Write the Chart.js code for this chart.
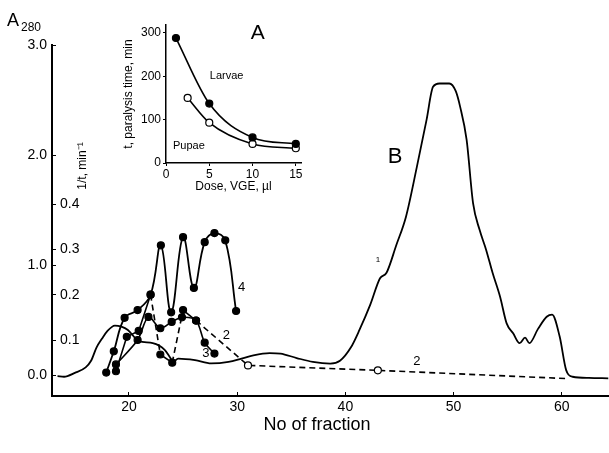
<!DOCTYPE html>
<html>
<head>
  <title>A280 and 1/t by fraction</title>
  <script src="https://cdn.jsdelivr.net/npm/chart.js"></script>
  <style>
    body { margin: 0; background: #fff; overflow: hidden; }
    #wrap { position: relative; width: 609px; height: 453px; overflow: hidden; }
    #main { position: absolute; left: 0; top: 0; }
    #inset { position: absolute; left: 100px; top: 10px; }
  </style>
</head>
<body>
<div id="wrap">
  <!-- a few px wider than the page: Chart.js keeps ~5px free on the right, this lets the axis run to the edge -->
  <canvas id="main" width="614" height="453"></canvas>
  <canvas id="inset" width="210" height="190"></canvas>
</div>
<script>
  // curve 1: A280 profile
  const fracA = [13.4, 14, 15, 16, 16.5, 17, 17.5, 18, 18.7, 19.3, 19.9, 20.9, 22.2, 23.3, 23.8,
    24.1, 24.55, 26.1, 27.6, 29.2, 30.4, 31.5, 33, 34, 35.5, 37, 38.6, 39.5, 40.5, 41.3,
    42.3, 43.2, 43.8, 44.7, 45.6, 46.6, 47.5, 48.1, 48.7, 49.6, 50.2, 50.6, 51.2, 51.8, 52.4,
    53, 53.6, 54.3, 54.9, 55.5, 56.1, 56.6, 57, 57.8, 58.6, 59.1, 59.8, 60.4, 61, 62.5, 64.3];
  const absA = [-0.01, -0.015, 0.02, 0.07, 0.13, 0.25, 0.33, 0.4, 0.45, 0.44, 0.41, 0.31, 0.29, 0.23, 0.16,
    0.12, 0.15, 0.136, 0.106, 0.12, 0.15, 0.18, 0.2, 0.195, 0.155, 0.12, 0.105, 0.13, 0.25, 0.41,
    0.64, 0.88, 0.93, 1.18, 1.44, 1.89, 2.32, 2.62, 2.65, 2.65, 2.58, 2.44, 2.14, 1.56, 1.32,
    1.14, 0.93, 0.71, 0.47, 0.38, 0.29, 0.34, 0.29, 0.42, 0.53, 0.55, 0.35, 0.045, -0.015, -0.025, -0.03];

  // curves 2, 3, 4: 1/t, min^-1
  const frac2 = [18.8, 19.8, 20.9, 22, 22.9, 24, 25, 26.2, 31, 43, 60.3];
  const inv2 = [0.031, 0.107, 0.12, 0.2, 0.068, 0.05, 0.166, 0.143, 0.044, 0.033, 0.015];
  const frac3 = [18.8, 20.8, 21.8, 22.9, 23.95, 24.9, 26.2, 27, 27.9];
  const inv3 = [0.046, 0.10, 0.151, 0.126, 0.14, 0.15, 0.143, 0.094, 0.07];
  const frac4 = [17.9, 18.6, 19.6, 20.8, 22, 22.95, 23.9, 25, 26, 27, 27.9, 28.9, 29.9];
  const inv4 = [0.028, 0.075, 0.149, 0.166, 0.2, 0.309, 0.161, 0.327, 0.215, 0.316, 0.336, 0.32, 0.164];

  // inset A: paralysis time vs dose
  const doseL = [1.15, 5, 10, 15];
  const timeL = [288, 137, 59, 44];
  const doseP = [2.5, 5, 10, 15];
  const timeP = [150, 93, 44, 34];

  const fracTicks = [20, 30, 40, 50, 60];
  const absTicks = [0, 1, 2, 3];
  const invTicks = [0.1, 0.2, 0.3, 0.4];
  const doseTicks = [0, 5, 10, 15];
  const timeTicks = [0, 100, 200, 300];

  const FONT = "'Liberation Sans', Arial, sans-serif";
  Chart.defaults.font.family = FONT;
  Chart.defaults.color = '#000';

  const pts = (xs, ys) => xs.map((v, i) => ({ x: v, y: ys[i] }));
  const setTicks = list => s => { s.ticks = list.map(v => ({ value: v })); };
  // fixed axis box sizes
  const fixBox = (w, h) => s => {
    if (w !== null) s.width = w;
    if (h !== null) s.height = h;
    s.paddingLeft = s.paddingRight = s.paddingTop = s.paddingBottom = 0;
  };

  const mainText = {
    id: 'mainText',
    afterDraw(chart) {
      const { ctx } = chart;
      const { x, y, y2 } = chart.scales;
      ctx.save();
      ctx.fillStyle = '#000';
      ctx.font = '18px ' + FONT;
      ctx.fillText('A', 7, 26);
      ctx.font = '12px ' + FONT;
      ctx.fillText('280', 21, 31);

      ctx.save();
      ctx.translate(83, 166);
      ctx.rotate(-Math.PI / 2);
      ctx.textAlign = 'center';
      ctx.textBaseline = 'middle';
      ctx.fillText('1/t, min\u207B\u00B9', 0, 0);
      ctx.restore();

      ctx.textAlign = 'center';
      ctx.textBaseline = 'middle';
      ctx.font = '18px ' + FONT;
      ctx.fillText('No of fraction', 317, 425);

      ctx.font = '22px ' + FONT;
      ctx.fillText('B', x.getPixelForValue(44.6), y.getPixelForValue(1.98));
      ctx.font = '13px ' + FONT;
      ctx.fillText('4', x.getPixelForValue(30.4), y2.getPixelForValue(0.215));
      ctx.fillText('2', x.getPixelForValue(29.0), y2.getPixelForValue(0.111));
      ctx.fillText('3', x.getPixelForValue(27.1), y2.getPixelForValue(0.071));
      ctx.fillText('2', x.getPixelForValue(46.6), y2.getPixelForValue(0.052));
      ctx.font = '8px ' + FONT;
      ctx.fillText('1', x.getPixelForValue(43.0), y.getPixelForValue(1.05));
      ctx.restore();
    }
  };

  const dotted = { pointRadius: 3.5, pointBorderColor: '#000', pointBorderWidth: 1.2, pointBackgroundColor: '#000' };

  new Chart(document.getElementById('main'), {
    type: 'line',
    data: {
      datasets: [
        {
          data: pts(fracA, absA), yAxisID: 'y',
          borderColor: '#000', borderWidth: 1.8, pointRadius: 0,
          cubicInterpolationMode: 'monotone'
        },
        {
          data: pts(frac2, inv2), yAxisID: 'y2',
          borderColor: '#000', borderWidth: 1.6, tension: 0,
          ...dotted,
          pointBackgroundColor: c => frac2[c.dataIndex] > 30 ? '#fff' : '#000',
          pointRadius: c => c.dataIndex === frac2.length - 1 ? 0 : 3.5,
          segment: { borderDash: c => [3, 5, 7, 8, 9].includes(c.p0DataIndex) ? [6, 4] : undefined }
        },
        {
          data: pts(frac3, inv3), yAxisID: 'y2',
          borderColor: '#000', borderWidth: 1.6, tension: 0.3, ...dotted
        },
        {
          data: pts(frac4, inv4), yAxisID: 'y2',
          borderColor: '#000', borderWidth: 1.8, tension: 0.4, ...dotted
        }
      ]
    },
    options: {
      animation: false,
      responsive: false,
      devicePixelRatio: 1,
      layout: { padding: { top: 45, left: 0, right: 0, bottom: 0 } },
      plugins: { legend: { display: false }, tooltip: { enabled: false } },
      scales: {
        x: {
          type: 'linear', min: 12.89, max: 64.34,
          afterBuildTicks: setTicks(fracTicks),
          afterFit: fixBox(null, 57),
          grid: { drawOnChartArea: false, drawTicks: true, tickLength: -4, color: '#000' },
          border: { display: true, color: '#000', width: 2 },
          ticks: { padding: 7, maxRotation: 0, font: { size: 14 } }
        },
        y: {
          position: 'left', weight: 1, min: -0.19, max: 3.0,
          afterBuildTicks: setTicks(absTicks),
          afterFit: fixBox(52, null),
          grid: { drawOnChartArea: false, drawTicks: true, tickLength: -4, color: '#000' },
          border: { display: true, color: '#000', width: 2 },
          ticks: { padding: 9, font: { size: 14 }, callback: v => v.toFixed(1) }
        },
        y2: {
          position: 'left', weight: 0, min: -0.0236, max: 0.7512,
          afterBuildTicks: setTicks(invTicks),
          afterFit: fixBox(0, null),
          grid: { drawOnChartArea: false, drawTicks: true, tickLength: -4, color: '#000' },
          border: { display: false },
          ticks: { mirror: true, padding: 8, font: { size: 14 }, callback: v => v.toFixed(1) }
        }
      }
    },
    plugins: [mainText]
  });

  const insetText = {
    id: 'insetText',
    afterDraw(chart) {
      const { ctx } = chart;
      const { x, y } = chart.scales;
      ctx.save();
      ctx.fillStyle = '#000';
      ctx.textAlign = 'center';
      ctx.textBaseline = 'middle';
      ctx.font = '21px ' + FONT;
      ctx.fillText('A', x.getPixelForValue(10.6), y.getPixelForValue(300));
      ctx.font = '11px ' + FONT;
      ctx.fillText('Larvae', x.getPixelForValue(7.0), y.getPixelForValue(200));
      ctx.fillText('Pupae', x.getPixelForValue(2.65), y.getPixelForValue(39));
      ctx.restore();
    }
  };

  new Chart(document.getElementById('inset'), {
    type: 'line',
    data: {
      datasets: [
        {
          data: pts(doseL, timeL), borderColor: '#000', borderWidth: 1.6,
          cubicInterpolationMode: 'monotone', ...dotted
        },
        {
          data: pts(doseP, timeP), borderColor: '#000', borderWidth: 1.6,
          cubicInterpolationMode: 'monotone', ...dotted, pointBackgroundColor: '#fff'
        }
      ]
    },
    options: {
      animation: false,
      responsive: false,
      devicePixelRatio: 1,
      layout: { padding: { top: 15, right: 9, left: 0, bottom: 0 } },
      plugins: { legend: { display: false }, tooltip: { enabled: false } },
      scales: {
        x: {
          type: 'linear', min: 0, max: 15.6,
          afterBuildTicks: setTicks(doseTicks),
          afterFit: fixBox(null, 37),
          grid: { drawOnChartArea: false, drawTicks: true, tickLength: 3, color: '#000' },
          border: { display: true, color: '#000', width: 1.5 },
          ticks: { padding: 1, maxRotation: 0, font: { size: 12 } },
          title: { display: true, text: 'Dose, VGE, \u00B5l', font: { size: 12 }, padding: { top: 0, bottom: 6 } }
        },
        y: {
          min: 0, max: 318,
          afterBuildTicks: setTicks(timeTicks),
          afterFit: fixBox(66, null),
          grid: { drawOnChartArea: false, drawTicks: true, tickLength: 3, color: '#000' },
          border: { display: true, color: '#000', width: 1.5 },
          ticks: { padding: 2, font: { size: 12 } },
          title: { display: true, text: 't, paralysis time, min', font: { size: 12 }, padding: { top: 21, bottom: 0 } }
        }
      }
    },
    plugins: [insetText]
  });
</script>
</body>
</html>
